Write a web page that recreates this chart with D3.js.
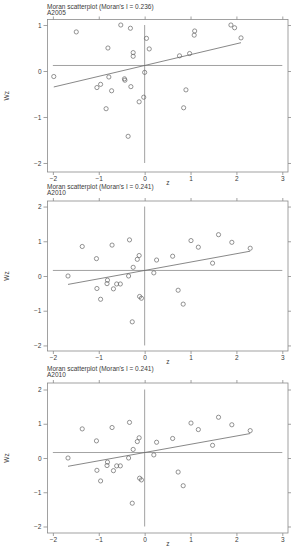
<!DOCTYPE html>
<html>
<head>
<meta charset="utf-8">
<script src="https://cdn.jsdelivr.net/npm/d3@7"></script>
<style>
  body { margin: 0; background: #fff; }
  svg { display: block; }
  text { font-family: "Liberation Sans", Arial, sans-serif; fill: #3a3a3a; }
</style>
</head>
<body>
<svg width="295" height="550"></svg>
<script>
// data
var z2005 = [-1.98, -1.49, -0.52, -0.31, -0.80, -0.25, -0.25, 0.04, 0.10, 1.09,
  1.08, 1.88, 1.96, 2.10, 0.98, 0.76, 0.00, -0.78, -0.44, -0.43,
  -0.96, -1.04, -0.72, -0.30, -0.02, -0.12, -0.84, 0.90, 0.85, -0.36];
var wz2005 = [-0.12, 0.85, 1.00, 0.93, 0.50, 0.40, 0.32, 0.71, 0.48, 0.87,
  0.78, 1.00, 0.94, 0.72, 0.38, 0.33, -0.03, -0.13, -0.17, -0.20,
  -0.29, -0.36, -0.43, -0.34, -0.57, -0.67, -0.82, -0.41, -0.80, -1.42];

var z2010 = [-1.67, -1.36, -0.71, -0.33, -1.05, -0.12, -0.16, -0.25, 0.26, 0.61,
  1.01, 1.17, 1.61, 1.90, 2.30, 1.48, 0.20, -0.35, -0.81, -0.82,
  -0.61, -0.53, -0.68, -1.04, -0.96, -0.11, -0.07, 0.73, 0.84, -0.27];
var wz2010 = [0.00, 0.85, 0.89, 1.04, 0.50, 0.59, 0.48, 0.25, 0.46, 0.57,
  1.02, 0.83, 1.19, 0.97, 0.80, 0.37, 0.09, 0.00, -0.12, -0.22,
  -0.23, -0.23, -0.37, -0.36, -0.67, -0.59, -0.64, -0.41, -0.81, -1.32];

var titles = ["Moran scatterplot (Moran's I = 0.236)", "Moran scatterplot (Moran's I = 0.241)", "Moran scatterplot (Moran's I = 0.241)"];
var subtitles = ["A2005", "A2010", "A2010"];
var moranI = [0.236, 0.241, 0.241];
var meanWz = [0.12, 0.16, 0.16];
var xTicks = [-2, -1, 0, 1, 2, 3];
var yTicks = [[-2, -1, 0, 1], [-2, -1, 0, 1, 2], [-2, -1, 0, 1, 2]];

var panels = [
  { z: z2005, wz: wz2005, top: 19.5, bottom: 172, ydom: [-2.196, 1.12], titleY: 8.5, subY: 15, ref: [-2, 1] },
  { z: z2010, wz: wz2010, top: 201, bottom: 351, ydom: [-2.16, 2.16], titleY: 189, subY: 195, ref: [-2, 2] },
  { z: z2010, wz: wz2010, top: 383, bottom: 533, ydom: [-2.19, 2.19], titleY: 371, subY: 377, ref: [-2, 2] }
];

var svg = d3.select("svg");
var left = 47.5, right = 288;
var gray = "#8a8a8a";

panels.forEach(function (p, i) {
  var x = d3.scaleLinear().domain([-2.117, 3.124]).range([left, right]);
  var y = d3.scaleLinear().domain(p.ydom).range([p.bottom, p.top]);
  var g = svg.append("g");

  g.append("text").attr("x", left - 0.5).attr("y", p.titleY)
    .style("font-size", "6.5px").text(titles[i]);
  g.append("text").attr("x", left - 0.5).attr("y", p.subY)
    .style("font-size", "6.5px").text(subtitles[i]);

  // box
  g.append("rect").attr("x", left).attr("y", p.top)
    .attr("width", right - left).attr("height", p.bottom - p.top)
    .attr("fill", "none").attr("stroke", gray).attr("stroke-width", 0.8);

  // axes on four sides
  var axL = g.append("g").attr("transform", "translate(" + left + ",0)")
    .call(d3.axisLeft(y).tickValues(yTicks[i]).tickSize(4).tickPadding(2).tickFormat(d3.format("d")));
  var axR = g.append("g").attr("transform", "translate(" + right + ",0)")
    .call(d3.axisRight(y).tickValues(yTicks[i]).tickSize(3).tickFormat(""));
  var axB = g.append("g").attr("transform", "translate(0," + p.bottom + ")")
    .call(d3.axisBottom(x).tickValues(xTicks).tickSize(3).tickPadding(1).tickFormat(d3.format("d")));
  var axT = g.append("g").attr("transform", "translate(0," + p.top + ")")
    .call(d3.axisTop(x).tickValues(xTicks).tickSize(3).tickFormat(""));
  [axL, axR, axB, axT].forEach(function (a) {
    a.select(".domain").remove();
    a.selectAll("line").attr("stroke", gray).attr("stroke-width", 0.8);
    a.selectAll("text").style("font-size", "6.5px").attr("fill", "#3a3a3a")
      .style("font-family", "'Liberation Sans', Arial, sans-serif");
  });

  // axis titles
  g.append("text").attr("x", (left + right) / 2).attr("y", p.bottom + 12.5)
    .attr("text-anchor", "middle").style("font-size", "6.5px").text("z");
  g.append("text")
    .attr("transform", "translate(9," + (p.top + p.bottom) / 2 + ") rotate(-90)")
    .attr("text-anchor", "middle").style("font-size", "6.5px").text("Wz");

  // reference lines
  g.append("line").attr("x1", x(0)).attr("x2", x(0))
    .attr("y1", y(p.ref[1])).attr("y2", y(p.ref[0]))
    .attr("stroke", gray).attr("stroke-width", 0.8);
  g.append("line").attr("x1", x(-2)).attr("x2", x(3))
    .attr("y1", y(meanWz[i])).attr("y2", y(meanWz[i]))
    .attr("stroke", gray).attr("stroke-width", 0.8);

  // regression line over the z range
  var zmin = d3.min(p.z), zmax = d3.max(p.z);
  g.append("line")
    .attr("x1", x(zmin)).attr("y1", y(meanWz[i] + moranI[i] * zmin))
    .attr("x2", x(zmax)).attr("y2", y(meanWz[i] + moranI[i] * zmax))
    .attr("stroke", "#6a6a6a").attr("stroke-width", 0.8);

  // points
  g.selectAll(".pt")
    .data(d3.range(p.z.length))
    .enter()
    .append("circle")
    .classed("pt", true)
    .attr("cx", (d) => x(p.z[d]))
    .attr("cy", (d) => y(p.wz[d]))
    .attr("r", 2.1)
    .attr("fill", "none")
    .attr("stroke", "#666")
    .attr("stroke-width", 0.7);
});
</script>
</body>
</html>
